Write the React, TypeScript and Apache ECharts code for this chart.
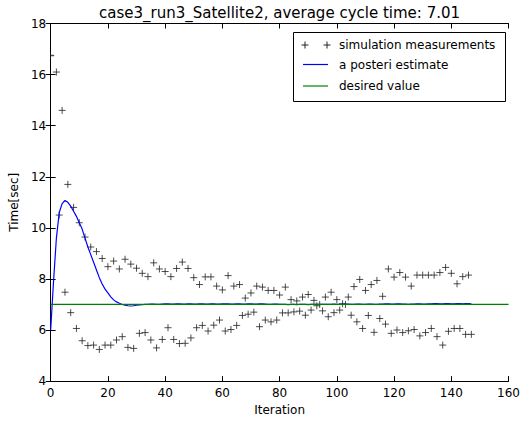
import React, { useEffect, useRef } from "react";
import * as echarts from "echarts";

const titleText = "case3_run3_Satellite2, average cycle time: 7.01";
const xAxisName = "Iteration";
const yAxisName = "Time[sec]";
const legendNames = ["simulation measurements", "a posteri estimate", "desired value"];

const xTicks = { min: 0, max: 160, interval: 20 };
const yTicks = { min: 4, max: 18, interval: 2 };

// measurements, iterations 0..147 (iteration 1 not visible)
const measurementFirstIteration = 0;
const measurements: (number | null)[] = [
  16.75, null,
  16.1, 10.5, 14.6, 7.48, 11.7, 6.68, 10.8, 6.06, 10.2, 5.58,
  9.64, 5.39, 9.25, 5.41, 9.07, 5.24, 8.8, 5.41, 8.48, 5.41,
  8.7, 5.61, 8.39, 5.74, 8.77, 5.32, 8.58, 5.28, 8.42, 5.87,
  8.22, 5.9, 8.09, 5.61, 8.63, 5.3, 8.39, 5.63, 8.29, 6.09,
  8.09, 5.63, 8.41, 5.47, 8.66, 5.48, 8.41, 5.69, 8.05, 6.09,
  7.78, 6.18, 8.08, 5.96, 8.08, 6.19, 7.72, 6.39, 7.57, 5.96,
  8.13, 6.02, 7.72, 6.18, 7.78, 6.57, 7.25, 6.62, 7.45, 6.7,
  7.72, 6.13, 7.68, 6.39, 7.55, 6.32, 7.55, 6.39, 7.37, 6.67,
  7.68, 6.67, 7.19, 6.71, 7.14, 6.74, 7.29, 6.58, 7.39, 6.78,
  7.16, 6.95, 7.0, 6.75, 7.29, 6.52, 7.48, 6.68, 7.19, 6.78,
  7.03, 7.0, 7.29, 6.58, 7.7, 6.32, 7.98, 6.06, 7.55, 6.57,
  7.78, 5.91, 7.94, 6.45, 7.32, 6.23, 8.39, 5.87, 8.07, 6.0,
  8.25, 5.9, 8.07, 5.97, 7.72, 6.02, 8.15, 5.77, 8.15, 5.9,
  8.15, 6.06, 8.15, 5.74, 8.25, 5.41, 8.45, 5.95, 8.22, 6.06,
  7.81, 6.06, 8.09, 5.83, 8.15, 5.83,
];

// a posteriori estimate, iterations 0..147
const estimateFirstIteration = 0;
const estimate = [
  6.0, 7.9, 9.6, 10.6, 10.95, 11.07, 11.0, 10.85, 10.65, 10.45,
  10.2, 9.95, 9.6, 9.25, 8.95, 8.65, 8.35, 8.05, 7.8, 7.6,
  7.45, 7.3, 7.18, 7.1, 7.05, 7.0, 6.97, 6.95, 6.94, 6.95,
  6.97, 6.98,
  6.99, 7.0, 7.0, 7.01, 7.01, 7.0, 7.0, 7.01, 7.02, 7.02,
  7.01, 7.01, 7.02, 7.02, 7.01, 7.01, 7.02, 7.02, 7.01, 7.01,
  7.02, 7.02, 7.01, 7.01, 7.02, 7.02, 7.01, 7.01, 7.02, 7.02,
  7.02, 7.01, 7.01, 7.02, 7.02, 7.01, 7.01, 7.02, 7.02, 7.01,
  7.01, 7.02, 7.02, 7.01, 7.0, 7.0, 7.01, 7.01, 7.0, 7.0,
  7.0, 6.99, 7.0, 7.0, 6.99, 7.0, 7.0, 7.0, 6.99, 7.0,
  7.0, 7.0, 7.0, 7.0, 7.0, 7.0, 7.0, 7.01, 7.0, 7.0,
  7.0, 7.01, 7.01, 7.0, 7.0, 7.01, 7.01, 7.0, 7.0, 7.01,
  7.01, 7.0, 7.0, 7.01, 7.01, 7.02, 7.02, 7.01, 7.01, 7.02,
  7.02, 7.01, 7.01, 7.0, 7.01, 7.01, 7.02, 7.02, 7.01, 7.01,
  7.02, 7.02, 7.03, 7.03, 7.02, 7.02, 7.03, 7.03, 7.02, 7.02,
  7.03, 7.03, 7.02, 7.03, 7.03, 7.02,
];

const desiredValue = 7;
const desiredRange = [0, 160];

const FONT = "DejaVu Sans";
const PLUS = "path://M0,5L10,5M5,0L5,10";
const HALF_PLUS = "path://M0,5L10,5M0,0L0,10";

export default function App() {
  const ref = useRef<HTMLDivElement>(null);
  useEffect(() => {
    if (!ref.current) return;
    const chart = echarts.init(ref.current, undefined, { renderer: "svg" });

    const xMin = xTicks.min;
    const measData = measurements
      .map((v, i) => [i + measurementFirstIteration, v])
      .filter((d) => d[1] !== null)
      .map((d) =>
        d[0] === xMin
          ? { value: d, symbol: HALF_PLUS, symbolSize: [3.5, 7], symbolOffset: [1.75, 0] }
          : d
      );
    const estData = estimate.map((v, i) => [i + estimateFirstIteration, v]);
    const desData = desiredRange.map((x) => [x, desiredValue]);

    const axisCommon = {
      axisLine: { show: true, lineStyle: { color: "#000", width: 1 } },
      axisTick: { show: true, inside: true, length: 5, lineStyle: { color: "#000" } },
      splitLine: { show: false },
    };

    const legX = 293.5;
    const legY = 32.5;
    const rowY = [45, 64.5, 86];
    const plusLines = (cx: number, cy: number) => [
      { type: "line", z: 101, shape: { x1: cx - 3.5, y1: cy, x2: cx + 3.5, y2: cy }, style: { stroke: "#222", lineWidth: 1 } },
      { type: "line", z: 101, shape: { x1: cx, y1: cy - 3.5, x2: cx, y2: cy + 3.5 }, style: { stroke: "#222", lineWidth: 1 } },
    ];

    chart.setOption({
      animation: false,
      textStyle: { fontFamily: FONT },
      grid: { left: 46.5, right: 10.5, top: 23.5, bottom: 36, containLabel: false },
      xAxis: [
        {
          type: "value",
          ...xTicks,
          position: "bottom",
          ...axisCommon,
          axisLabel: { color: "#000", fontSize: 12, fontFamily: FONT, margin: 6 },
          name: xAxisName,
          nameLocation: "middle",
          nameGap: 20,
          nameTextStyle: { color: "#000", fontSize: 12, fontFamily: FONT },
        },
        {
          type: "value",
          ...xTicks,
          position: "top",
          ...axisCommon,
          axisLabel: { show: false },
        },
      ],
      yAxis: [
        {
          type: "value",
          ...yTicks,
          position: "left",
          ...axisCommon,
          axisLabel: { color: "#000", fontSize: 12, fontFamily: FONT, margin: 4.5 },
          name: yAxisName,
          nameLocation: "middle",
          nameGap: 23,
          nameRotate: 90,
          nameTextStyle: { color: "#000", fontSize: 12, fontFamily: FONT },
        },
        {
          type: "value",
          ...yTicks,
          position: "right",
          ...axisCommon,
          axisLabel: { show: false },
        },
      ],
      series: [
        {
          name: legendNames[0],
          type: "scatter",
          data: measData,
          symbol: PLUS,
          symbolSize: 7,
          itemStyle: { color: "none", borderColor: "#222", borderWidth: 1 },
          z: 2,
        },
        {
          name: legendNames[1],
          type: "line",
          data: estData,
          showSymbol: false,
          lineStyle: { color: "#0000ff", width: 1.2 },
          z: 3,
        },
        {
          name: legendNames[2],
          type: "line",
          data: desData,
          showSymbol: false,
          lineStyle: { color: "#008000", width: 1.2 },
          z: 4,
        },
      ],
      graphic: [
        {
          type: "text",
          z: 100,
          x: 279.5,
          y: 13,
          style: { text: titleText, fill: "#000", font: `15px '${FONT}'`, textAlign: "center", textVerticalAlign: "middle" },
        },
        {
          type: "rect",
          z: 100,
          shape: { x: legX, y: legY, width: 212, height: 69 },
          style: { fill: "#fff", stroke: "#000", lineWidth: 1 },
        },
        ...plusLines(305, rowY[0]),
        ...plusLines(327, rowY[0]),
        { type: "line", z: 101, shape: { x1: 303, y1: rowY[1], x2: 328, y2: rowY[1] }, style: { stroke: "#0000ff", lineWidth: 1.2 } },
        { type: "line", z: 101, shape: { x1: 303, y1: rowY[2], x2: 328, y2: rowY[2] }, style: { stroke: "#008000", lineWidth: 1.2 } },
        ...legendNames.map((t, i) => ({
          type: "text",
          z: 101,
          x: 339,
          y: rowY[i],
          style: { text: t, fill: "#000", font: `12px '${FONT}'`, textAlign: "left", textVerticalAlign: "middle" },
        })),
      ],
    });
    return () => chart.dispose();
  }, []);
  return <div ref={ref} style={{ position: "absolute", left: 0, top: 0, width: 523, height: 421 }} />;
}
